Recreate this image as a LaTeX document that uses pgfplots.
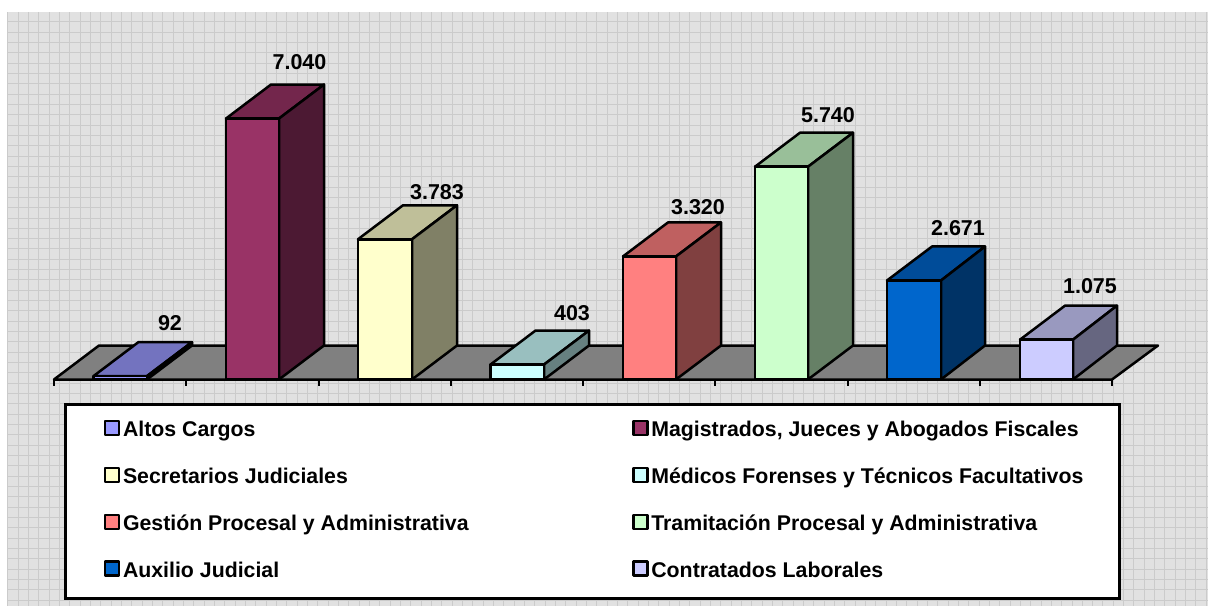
\documentclass[border=0pt]{standalone}
\usepackage{pgfplots}
\pgfplotsset{compat=1.18}
\usepackage{fontspec}
\setmainfont{Liberation Sans}
\definecolor{c1}{HTML}{9999FF}
\definecolor{c2}{HTML}{993366}
\definecolor{c3}{HTML}{FFFFCC}
\definecolor{c4}{HTML}{CCFFFF}
\definecolor{c5}{HTML}{FF8080}
\definecolor{c6}{HTML}{CCFFCC}
\definecolor{c7}{HTML}{0066CC}
\definecolor{c8}{HTML}{CCCCFF}
\definecolor{bgc}{HTML}{E1E1E1}
\definecolor{gridc}{HTML}{CBCBCB}
\begin{document}
\begin{tikzpicture}[x=1pt,y=1pt]
\useasboundingbox (0,0) rectangle (1208,606);
% background
\begin{axis}[
  at={(8pt,0pt)},anchor=south west,scale only axis,width=1200pt,height=594pt,
  xmin=8,xmax=1208,ymin=12,ymax=606,y dir=reverse,
  axis line style={draw=none},
  axis background/.style={fill=bgc},
  xtick={8,18.33,...,1208},ytick={11.4,21.73,...,606},
  xticklabels={},yticklabels={},
  major tick length=0pt,
  grid=major,grid style={gridc,line width=1pt},
]
\end{axis}
% chart
\begin{axis}[
  at={(54pt,226.5pt)},anchor=south west,scale only axis,width=1058pt,height=300pt,
  xmin=54,xmax=1112,ymin=0,ymax=8093,
  clip=false,
  axis x line=bottom,axis y line=none,
  axis line style={-,line width=2pt,black},
  xtick={54,186.25,318.5,450.75,583,715.25,847.5,979.75,1112},
  xticklabels={},
  tick align=outside,major tick length=6pt,
  x tick style={line width=2pt,black},
  legend columns=2,
  legend cell align=left,
  legend image code/.code={\draw[#1,line width=2.4pt] (0pt,-2pt) rectangle (14pt,12pt);\path[draw=none,fill=none] (-5pt,0pt) -- (17pt,0pt);},
  legend style={
    at={(axis cs:63.5,-640)},anchor=north west,
    draw=black,line width=3pt,fill=white,
    inner xsep=35pt,inner ysep=15pt,
    font=\fontsize{21.3}{25}\selectfont\bfseries,
    row sep=23.7pt,
    nodes={inner xsep=1pt,inner ysep=0pt,text height=13.5pt,text depth=6.5pt,line width=0pt},
    /tikz/column 2/.style={column sep=158.7pt},
  },
  every axis plot/.append style={draw=black,line width=2.5pt,line join=round},
]
% floor
\addplot[fill=black!50,forget plot] coordinates {(54,0)(99,917)(1158,917)(1112,0)} -- cycle;

\addplot[fill=c1!75!black,forget plot] coordinates {(93.5,92)(147,92)(192,1009)(138.5,1009)} -- cycle;
\addplot[fill=c1!50!black,forget plot] coordinates {(147,0)(192,917)(192,1009)(147,92)} -- cycle;
\addplot[fill=c1] coordinates {(93.5,0)(147,0)(147,92)(93.5,92)} -- cycle;
\addlegendentry{Altos Cargos}

\addplot[fill=c2!75!black,forget plot] coordinates {(226,7040)(279,7040)(324,7957)(271,7957)} -- cycle;
\addplot[fill=c2!50!black,forget plot] coordinates {(279,0)(324,917)(324,7957)(279,7040)} -- cycle;
\addplot[fill=c2] coordinates {(226,0)(279,0)(279,7040)(226,7040)} -- cycle;
\addlegendentry{Magistrados, Jueces y Abogados Fiscales}

\addplot[fill=c3!75!black,forget plot] coordinates {(358,3783)(412,3783)(457,4700)(403,4700)} -- cycle;
\addplot[fill=c3!50!black,forget plot] coordinates {(412,0)(457,917)(457,4700)(412,3783)} -- cycle;
\addplot[fill=c3] coordinates {(358,0)(412,0)(412,3783)(358,3783)} -- cycle;
\addlegendentry{Secretarios Judiciales}

\addplot[fill=c4!75!black,forget plot] coordinates {(490.5,403)(544,403)(589,1320)(535.5,1320)} -- cycle;
\addplot[fill=c4!50!black,forget plot] coordinates {(544,0)(589,917)(589,1320)(544,403)} -- cycle;
\addplot[fill=c4] coordinates {(490.5,0)(544,0)(544,403)(490.5,403)} -- cycle;
\addlegendentry{Médicos Forenses y Técnicos Facultativos}

\addplot[fill=c5!75!black,forget plot] coordinates {(623,3320)(676,3320)(721,4237)(668,4237)} -- cycle;
\addplot[fill=c5!50!black,forget plot] coordinates {(676,0)(721,917)(721,4237)(676,3320)} -- cycle;
\addplot[fill=c5] coordinates {(623,0)(676,0)(676,3320)(623,3320)} -- cycle;
\addlegendentry{Gestión Procesal y Administrativa}

\addplot[fill=c6!75!black,forget plot] coordinates {(755,5740)(808,5740)(853,6657)(800,6657)} -- cycle;
\addplot[fill=c6!50!black,forget plot] coordinates {(808,0)(853,917)(853,6657)(808,5740)} -- cycle;
\addplot[fill=c6] coordinates {(755,0)(808,0)(808,5740)(755,5740)} -- cycle;
\addlegendentry{Tramitación Procesal y Administrativa}

\addplot[fill=c7!75!black,forget plot] coordinates {(887,2671)(941,2671)(985,3588)(932,3588)} -- cycle;
\addplot[fill=c7!50!black,forget plot] coordinates {(941,0)(985,917)(985,3588)(941,2671)} -- cycle;
\addplot[fill=c7] coordinates {(887,0)(941,0)(941,2671)(887,2671)} -- cycle;
\addlegendentry{Auxilio Judicial}

\addplot[fill=c8!75!black,forget plot] coordinates {(1020,1075)(1073,1075)(1117,1992)(1065,1992)} -- cycle;
\addplot[fill=c8!50!black,forget plot] coordinates {(1073,0)(1117,917)(1117,1992)(1073,1075)} -- cycle;
\addplot[fill=c8] coordinates {(1020,0)(1073,0)(1073,1075)(1020,1075)} -- cycle;
\addlegendentry{Contratados Laborales}

\begin{scope}[every node/.style={font=\fontsize{21.5}{25}\selectfont\bfseries,text=black,inner sep=0pt}]
\node at (axis cs:170,1525) {92};
\node at (axis cs:299.5,8565) {7.040};
\node at (axis cs:437,5059) {3.783};
\node at (axis cs:572,1794) {403};
\node at (axis cs:698,4654) {3.320};
\node at (axis cs:828,7136) {5.740};
\node at (axis cs:958,4087) {2.671};
\node at (axis cs:1090,2523) {1.075};
\end{scope}
\end{axis}
\end{tikzpicture}
\end{document}
